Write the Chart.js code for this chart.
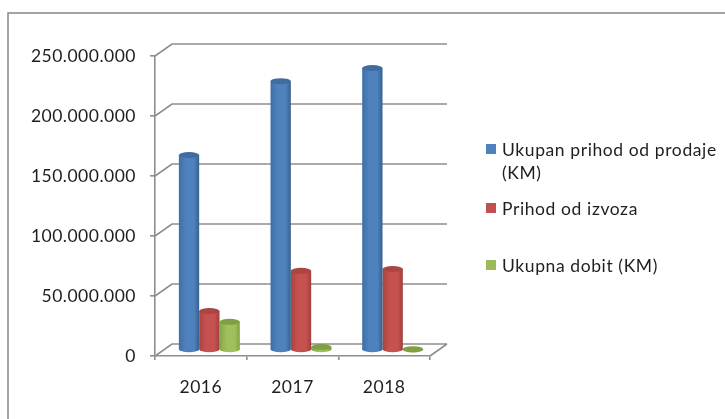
<!DOCTYPE html>
<html>
<head>
<meta charset="utf-8">
<title>Prihod i dobit</title>
<script src="https://cdn.jsdelivr.net/npm/chart.js@4/dist/chart.umd.min.js"></script>
<style>
    html, body { margin: 0; padding: 0; background: #fff; overflow: hidden; }
    canvas { display: block; filter: blur(0.4px); }
</style>
</head>
<body>
<canvas id="salesChart" width="725" height="419"></canvas>
<script>
const categories = ["2016", "2017", "2018"];
const totalSales = [162500000, 224000000, 235000000];
const exportIncome = [32500000, 66000000, 67500000];
const totalProfit = [23500000, 2500000, 500000];
const tickLabels = ["0", "50.000.000", "100.000.000", "150.000.000", "200.000.000", "250.000.000"];

const FONT = "Lato";
const TEXT = "#1f1f1f";
const LINE = "#8e8e8e";
const DEPTH_X = 17;
const DEPTH_Y = 12;

const palette = [
    { left: "#3f6fa8", mid: "#4f81bd", right: "#36618f", top: "#3f6d9f", key: "#4f81bd" },
    { left: "#a94442", mid: "#c6524f", right: "#a03e3b", top: "#a94643", key: "#c0504d" },
    { left: "#86a34a", mid: "#9fc05c", right: "#84a044", top: "#7f9f42", key: "#9bbb59" },
];

// the library has no 3D bars, so walls and cylinder look are added around its own bars
const walls = {
    id: "walls",
    beforeDraw(chart) {
        chart.ctx.letterSpacing = "0.5px";
    },
    beforeDatasetsDraw(chart) {
        const { ctx, scales, chartArea } = chart;
        ctx.save();
        ctx.strokeStyle = LINE;
        ctx.lineWidth = 1.6;
        scales.y.ticks.forEach((tick) => {
            const y = scales.y.getPixelForValue(tick.value);
            ctx.beginPath();
            ctx.moveTo(chartArea.left, y);
            ctx.lineTo(chartArea.left + DEPTH_X, y - DEPTH_Y);
            ctx.lineTo(chartArea.right + DEPTH_X, y - DEPTH_Y);
            ctx.stroke();
        });
        ctx.beginPath();
        ctx.moveTo(chartArea.right, chartArea.bottom);
        ctx.lineTo(chartArea.right + DEPTH_X, chartArea.bottom - DEPTH_Y);
        ctx.stroke();
        ctx.restore();
    },
};

const cylinders = {
    id: "cylinders",
    beforeDatasetsDraw(chart) {
        const { ctx } = chart;
        ctx.save();
        ctx.translate(DEPTH_X / 2, -DEPTH_Y / 2);
        chart.data.datasets.forEach((ds, i) => {
            chart.getDatasetMeta(i).data.forEach((bar) => {
                const left = bar.x - bar.width / 2;
                const grad = ctx.createLinearGradient(left, 0, left + bar.width, 0);
                grad.addColorStop(0, palette[i].left);
                grad.addColorStop(0.35, palette[i].mid);
                grad.addColorStop(0.75, palette[i].mid);
                grad.addColorStop(1, palette[i].right);
                bar.options = Object.assign({}, bar.options, { backgroundColor: grad });
                ctx.fillStyle = grad;
                ctx.beginPath();
                ctx.ellipse(bar.x, bar.base, bar.width / 2, 3, 0, 0, Math.PI * 2);
                ctx.fill();
            });
        });
    },
    afterDatasetsDraw(chart) {
        const { ctx } = chart;
        chart.data.datasets.forEach((ds, i) => {
            chart.getDatasetMeta(i).data.forEach((bar) => {
                ctx.fillStyle = palette[i].top;
                ctx.beginPath();
                ctx.ellipse(bar.x, bar.y, bar.width / 2, 3, 0, 0, Math.PI * 2);
                ctx.fill();
            });
        });
        ctx.restore();
    },
};

// legend rows are spaced unevenly in the picture, so it is drawn by hand
const sideLegend = {
    id: "sideLegend",
    afterDraw(chart) {
        const { ctx } = chart;
        const rows = [
            { y: 150, lines: ["Ukupan prihod od prodaje", "(KM)"] },
            { y: 209, lines: ["Prihod od izvoza"] },
            { y: 266, lines: ["Ukupna dobit (KM)"] },
        ];
        ctx.save();
        ctx.font = "17.5px " + FONT;
        ctx.letterSpacing = "0.6px";
        ctx.textBaseline = "middle";
        rows.forEach((row, i) => {
            ctx.fillStyle = palette[i].key;
            ctx.fillRect(486, row.y - 6, 10, 10);
            ctx.fillStyle = TEXT;
            row.lines.forEach((line, n) => ctx.fillText(line, 502, row.y + n * 23));
        });
        // outer frame, runs off the right and bottom edge
        ctx.strokeStyle = "#868686";
        ctx.lineWidth = 1.5;
        ctx.beginPath();
        ctx.moveTo(8, 419);
        ctx.lineTo(8, 13);
        ctx.lineTo(725, 13);
        ctx.stroke();
        ctx.restore();
    },
};

new Chart(document.getElementById("salesChart"), {
    type: "bar",
    data: {
        labels: categories,
        datasets: [
            { label: "Ukupan prihod od prodaje (KM)", data: totalSales, backgroundColor: palette[0].mid },
            { label: "Prihod od izvoza", data: exportIncome, backgroundColor: palette[1].mid },
            { label: "Ukupna dobit (KM)", data: totalProfit, backgroundColor: palette[2].mid },
        ],
    },
    options: {
        responsive: false,
        animation: false,
        categoryPercentage: 0.665,
        barPercentage: 1,
        layout: { autoPadding: false, padding: { top: 56, right: 295 } },
        plugins: { legend: { display: false }, tooltip: { enabled: false } },
        scales: {
            x: {
                afterFit(scale) { scale.height = 63; },
                border: { color: LINE, width: 1.6 },
                grid: { drawOnChartArea: false, color: LINE, tickLength: 4, lineWidth: 1.6 },
                ticks: { color: TEXT, font: { family: FONT, size: 17.5 }, padding: 17, maxRotation: 0 },
            },
            y: {
                min: 0,
                max: 250000000,
                afterFit(scale) { scale.width = 155; },
                border: { color: LINE, width: 1.6 },
                grid: { drawOnChartArea: false, color: LINE, tickLength: 5, lineWidth: 1.6 },
                ticks: {
                    stepSize: 50000000,
                    color: TEXT,
                    font: { family: FONT, size: 17.5 },
                    padding: 14,
                    callback: (value, index) => tickLabels[index],
                },
            },
        },
    },
    plugins: [walls, cylinders, sideLegend],
});
</script>
</body>
</html>
